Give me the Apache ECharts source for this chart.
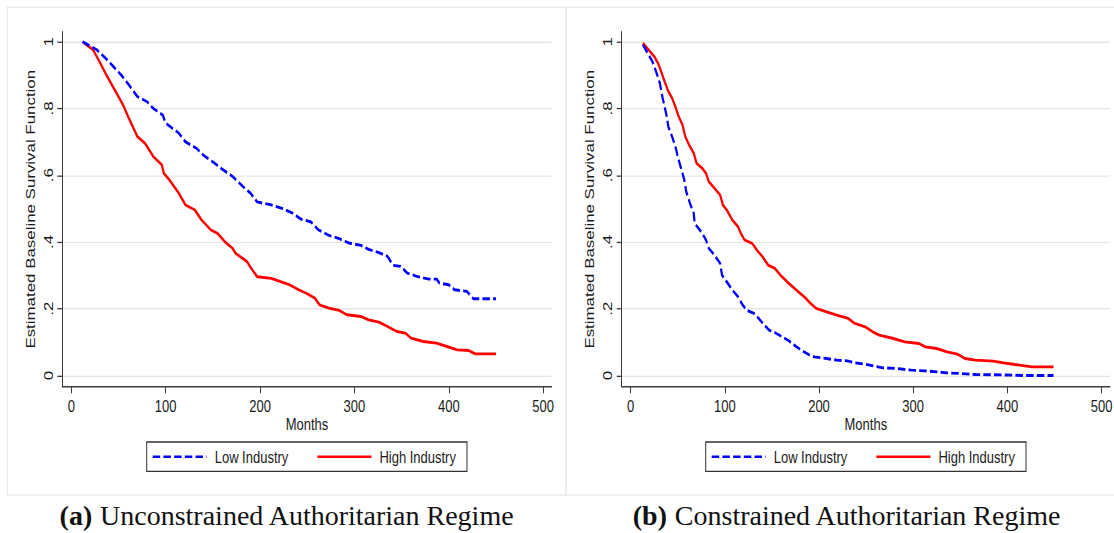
<!DOCTYPE html>
<html>
<head>
<meta charset="utf-8">
<script src="https://cdn.jsdelivr.net/npm/echarts@6/dist/echarts.min.js"></script>
<style>
  html, body { margin: 0; padding: 0; background: #fff; overflow: hidden; }
  #wrap { width: 1114px; height: 533px; overflow: hidden; }
  /* the figure is drawn at a compressed height and stretched vertically */
  #chart { width: 1114px; height: 410px; transform: scaleY(1.3); transform-origin: 0 0; }
</style>
</head>
<body>
<div id="wrap"><div id="chart"></div></div>
<script>
// Estimated baseline survival, panel (a): unconstrained authoritarian regime
const lowUncMonths = [12, 27, 38, 53, 61, 70, 80, 87, 97, 100, 114, 121, 133, 140, 152, 159, 171, 182, 190, 197, 212, 224, 235, 243, 254, 262, 273, 284, 294, 307, 315, 326, 335, 341, 349, 356, 366, 379, 387, 390, 400, 406, 419, 426, 450];
const lowUncSurv   = [1.0, 0.976, 0.946, 0.90, 0.871, 0.836, 0.821, 0.80, 0.78, 0.756, 0.726, 0.70, 0.68, 0.66, 0.636, 0.62, 0.596, 0.566, 0.546, 0.52, 0.511, 0.50, 0.486, 0.469, 0.46, 0.436, 0.42, 0.41, 0.397, 0.39, 0.378, 0.368, 0.357, 0.33, 0.327, 0.307, 0.297, 0.289, 0.289, 0.277, 0.272, 0.257, 0.252, 0.23, 0.23];
const highUncMonths = [12, 23, 30, 38, 46, 55, 61, 70, 78, 87, 96, 98, 104, 114, 121, 131, 138, 148, 155, 163, 171, 174, 186, 190, 197, 212, 224, 231, 241, 250, 258, 263, 273, 284, 292, 307, 315, 326, 335, 345, 354, 360, 373, 387, 398, 409, 421, 428, 450];
const highUncSurv   = [1.0, 0.976, 0.94, 0.896, 0.856, 0.81, 0.771, 0.716, 0.696, 0.656, 0.631, 0.606, 0.586, 0.546, 0.511, 0.496, 0.466, 0.436, 0.426, 0.40, 0.381, 0.366, 0.342, 0.324, 0.296, 0.291, 0.279, 0.272, 0.257, 0.245, 0.232, 0.212, 0.202, 0.195, 0.182, 0.177, 0.167, 0.16, 0.147, 0.132, 0.127, 0.112, 0.102, 0.097, 0.087, 0.077, 0.075, 0.065, 0.065];

// Panel (b): constrained authoritarian regime
const lowConMonths = [13, 17, 23, 27, 31, 34, 38, 40, 44, 48, 50, 53, 57, 59, 63, 67, 68, 72, 76, 80, 83, 89, 95, 97, 102, 108, 114, 119, 123, 131, 136, 142, 147, 153, 161, 168, 176, 183, 189, 195, 208, 219, 230, 238, 249, 259, 268, 283, 298, 313, 325, 336, 351, 366, 393, 419, 449];
const lowConSurv   = [0.991, 0.971, 0.941, 0.911, 0.876, 0.831, 0.781, 0.746, 0.716, 0.681, 0.656, 0.626, 0.586, 0.551, 0.516, 0.486, 0.456, 0.441, 0.426, 0.406, 0.381, 0.361, 0.336, 0.301, 0.281, 0.256, 0.236, 0.211, 0.196, 0.186, 0.171, 0.151, 0.136, 0.129, 0.116, 0.104, 0.086, 0.073, 0.063, 0.056, 0.051, 0.046, 0.044, 0.038, 0.034, 0.028, 0.023, 0.021, 0.016, 0.014, 0.011, 0.008, 0.006, 0.003, 0.002, 0.0, 0.0];
const highConMonths = [13, 19, 25, 29, 33, 36, 40, 44, 48, 51, 55, 58, 62, 67, 70, 76, 80, 83, 89, 95, 98, 102, 108, 114, 117, 121, 129, 134, 140, 146, 153, 159, 166, 172, 178, 185, 191, 197, 208, 219, 231, 238, 249, 257, 264, 279, 291, 306, 313, 325, 336, 347, 355, 366, 385, 396, 408, 426, 449];
const highConSurv   = [0.996, 0.976, 0.956, 0.936, 0.906, 0.881, 0.851, 0.831, 0.801, 0.776, 0.751, 0.716, 0.691, 0.666, 0.636, 0.621, 0.606, 0.581, 0.561, 0.541, 0.511, 0.496, 0.466, 0.446, 0.426, 0.406, 0.396, 0.376, 0.356, 0.331, 0.321, 0.301, 0.281, 0.266, 0.251, 0.234, 0.216, 0.201, 0.191, 0.181, 0.171, 0.156, 0.146, 0.131, 0.121, 0.111, 0.101, 0.096, 0.086, 0.081, 0.071, 0.064, 0.051, 0.046, 0.043, 0.038, 0.033, 0.026, 0.026];

const seriesNames = ['Low Industry', 'High Industry'];
const xTicks = [0, 100, 200, 300, 400, 500];
const yTicks = [0, 0.2, 0.4, 0.6, 0.8, 1];
const yTickLabels = ['0', '.2', '.4', '.6', '.8', '1'];
const captions = [['(a)', 'Unconstrained Authoritarian Regime'], ['(b)', 'Constrained Authoritarian Regime']];
const xTitle = 'Months';
const yTitle = 'Estimated Baseline Survival Function';

const SY = 1.3;                 // vertical stretch applied to the whole figure
const FONT = "'Liberation Sans', Arial, sans-serif";
const SERIF = "'Liberation Serif', 'Times New Roman', serif";
const TEXT = '#1a1a1a';
const AXIS = '#3a3a3a';
const BLUE = '#0000ff';
const RED = '#ff0000';

function pairs(xs, ys) { return xs.map((x, i) => [x, ys[i]]); }

const panels = [
  { left: 62.3, width: 489.4, legendLeft: 146.7, low: pairs(lowUncMonths, lowUncSurv), high: pairs(highUncMonths, highUncSurv) },
  { left: 621.7, width: 488.3, legendLeft: 705.7, low: pairs(lowConMonths, lowConSurv), high: pairs(highConMonths, highConSurv) }
];

const grid = [], xAxis = [], yAxis = [], series = [], legend = [];
panels.forEach((p, i) => {
  grid.push({ left: p.left, top: 24.4, width: p.width, height: 273.1, containLabel: false, outerBoundsMode: 'none' });
  xAxis.push({
    gridIndex: i, type: 'value', min: -9.5, max: 509,
    axisLine: { show: true, onZero: false, lineStyle: { color: AXIS, width: 1 } },
    axisTick: { show: true, length: 5, inside: false, lineStyle: { color: AXIS }, customValues: xTicks },
    axisLabel: { customValues: xTicks, margin: 8, color: TEXT, fontSize: 13, fontFamily: FONT },
    splitLine: { show: false },
    name: xTitle, nameLocation: 'middle', nameGap: 22, nameMoveOverlap: false,
    nameTextStyle: { color: TEXT, fontSize: 13, fontFamily: FONT }
  });
  yAxis.push({
    gridIndex: i, type: 'value', min: -0.0336, max: 1.03,
    axisLine: { show: true, onZero: false, lineStyle: { color: AXIS, width: 1 } },
    axisTick: { show: true, length: 5, inside: false, lineStyle: { color: AXIS }, customValues: yTicks },
    axisLabel: {
      customValues: yTicks, rotate: 90, margin: 8, color: TEXT, fontSize: 13, fontFamily: FONT,
      formatter: v => { const k = yTicks.findIndex(t => Math.abs(t - v) < 1e-6); return k >= 0 ? yTickLabels[k] : ''; }
    },
    splitLine: { show: true, lineStyle: { color: '#e6e6e6', width: 1 } },
    name: yTitle, nameLocation: 'middle', nameGap: 26, nameRotate: 90, nameMoveOverlap: false,
    nameTextStyle: { color: TEXT, fontSize: 13, fontFamily: FONT }
  });
  series.push({
    name: seriesNames[0], type: 'line', xAxisIndex: i, yAxisIndex: i, data: p.low,
    symbol: 'none', showSymbol: false, animation: false, z: 3,
    lineStyle: { color: BLUE, width: 2.2, type: [7.5, 3.2] }, itemStyle: { color: BLUE }
  });
  series.push({
    name: seriesNames[1], type: 'line', xAxisIndex: i, yAxisIndex: i, data: p.high,
    symbol: 'none', showSymbol: false, animation: false, z: 2,
    lineStyle: { color: RED, width: 2.2 }, itemStyle: { color: RED }
  });
  legend.push({
    data: seriesNames, left: p.legendLeft, top: 340, orient: 'horizontal',
    itemWidth: 54, itemHeight: 14, itemGap: 28,
    padding: [4.8, 11, 4.8, 5],
    borderColor: '#333', borderWidth: 1, backgroundColor: '#fff',
    itemStyle: { opacity: 0 },
    textStyle: { color: TEXT, fontSize: 13, fontFamily: FONT, padding: [0, 0, 0, 3] },
    selectedMode: false
  });
});

// panel frames and sub-figure captions (captions are kept at natural proportions)
const graphic = [
  { type: 'rect', shape: { x: 7.3, y: 5.6, width: 558.7, height: 375.2 }, style: { fill: 'none', stroke: '#e8e8e8', lineWidth: 1 }, silent: true, z: -1 },
  { type: 'rect', shape: { x: 566, y: 5.6, width: 600, height: 375.2 }, style: { fill: 'none', stroke: '#e8e8e8', lineWidth: 1 }, silent: true, z: -1 }
];
const captionX = [287, 847];
captions.forEach((c, i) => {
  graphic.push({
    type: 'text', x: captionX[i], y: 516 / SY, scaleY: 1 / SY, silent: true,
    style: {
      text: '{b|' + c[0] + '} ' + c[1],
      fontFamily: SERIF, fontSize: 28, lineHeight: 22, fill: '#111',
      align: 'center', verticalAlign: 'middle',
      rich: { b: { fontFamily: SERIF, fontSize: 28, lineHeight: 22, fontWeight: 'bold', fill: '#111' } }
    }
  });
});

const chart = echarts.init(document.getElementById('chart'), null, { renderer: 'svg' });
chart.setOption({
  backgroundColor: '#fff',
  animation: false,
  grid, xAxis, yAxis, series, legend, graphic,
  tooltip: { show: false }
});
</script>
</body>
</html>
